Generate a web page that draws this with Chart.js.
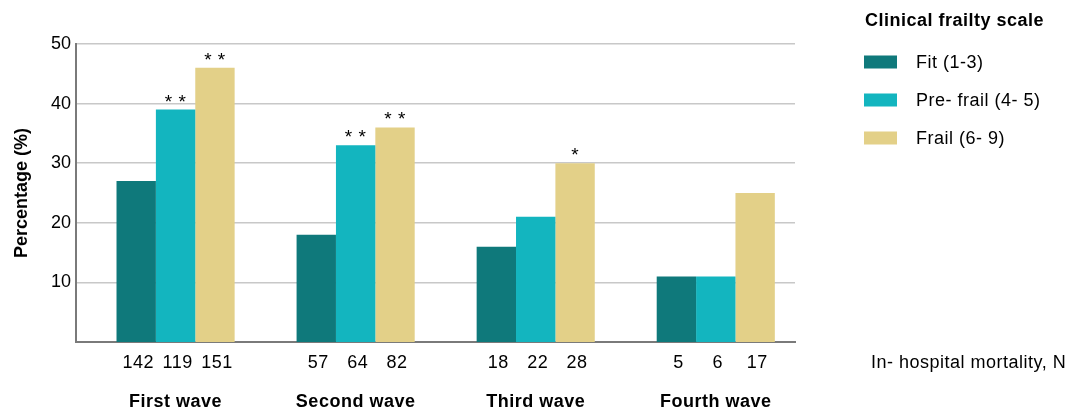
<!DOCTYPE html>
<html>
<head>
<meta charset="utf-8">
<script src="https://cdn.jsdelivr.net/npm/chart.js@4"></script>
<style>
  body { margin: 0; background: #fff; }
  #wrap { width: 1077px; height: 413px; position: relative; }
</style>
</head>
<body>
<div id="wrap"><canvas id="chart"></canvas></div>
<script>
// data
const waves = ["First wave", "Second wave", "Third wave", "Fourth wave"];
const groups = ["Fit (1-3)", "Pre- frail (4- 5)", "Frail (6- 9)"];
const fitPct = [27, 18, 16, 11];
const preFrailPct = [39, 33, 21, 11];
const frailPct = [46, 36, 30, 25];
const fitN = [142, 57, 18, 5];
const preFrailN = [119, 64, 22, 6];
const frailN = [151, 82, 28, 17];
const fitSig = ["", "", "", ""];
const preFrailSig = ["* *", "* *", "", ""];
const frailSig = ["* *", "* *", "*", ""];
const yTicks = [10, 20, 30, 40, 50];

const colors = ["#0f797b", "#13b5bf", "#e3d088"];
const counts = [fitN, preFrailN, frailN];
const sigs = [fitSig, preFrailSig, frailSig];
const FONT = '"Liberation Sans", Arial, sans-serif';

// text under the axis, asterisks and the legend
const extras = {
  id: "extras",
  afterDraw(chart) {
    const ctx = chart.ctx;
    const area = chart.chartArea;
    ctx.save();
    ctx.fillStyle = "#000";
    ctx.letterSpacing = "0.5px";

    chart.data.datasets.forEach((ds, di) => {
      const meta = chart.getDatasetMeta(di);
      meta.data.forEach((bar, i) => {
        // counts row
        ctx.font = "18px " + FONT;
        ctx.textAlign = "center";
        ctx.textBaseline = "middle";
        ctx.fillText(String(counts[di][i]), bar.x + 2, area.bottom + 21);
        // significance stars
        if (sigs[di][i]) {
          ctx.font = "19px " + FONT;
          ctx.textBaseline = "alphabetic";
          ctx.fillText(sigs[di][i], bar.x, bar.y - 2);
        }
      });
    });

    // wave names
    const xs = chart.scales.x;
    ctx.font = "bold 18px " + FONT;
    ctx.textAlign = "center";
    ctx.textBaseline = "middle";
    waves.forEach((w, i) => {
      ctx.fillText(w, xs.getPixelForValue(i), area.bottom + 60);
    });

    ctx.font = "18px " + FONT;
    ctx.textAlign = "left";
    ctx.fillText("In- hospital mortality, N", 871, area.bottom + 21);

    // legend
    ctx.font = "bold 18px " + FONT;
    ctx.fillText("Clinical frailty scale", 865, 21);
    ctx.font = "18px " + FONT;
    groups.forEach((g, i) => {
      const cy = 62 + i * 38;
      ctx.fillStyle = colors[i];
      ctx.fillRect(864, cy - 6.5, 33, 13);
      ctx.fillStyle = "#000";
      ctx.fillText(g, 916, cy + 1);
    });
    ctx.restore();
  }
};

new Chart(document.getElementById("chart"), {
  type: "bar",
  data: {
    labels: waves.map((_, i) => i),
    datasets: [
      { label: groups[0], data: fitPct, backgroundColor: colors[0] },
      { label: groups[1], data: preFrailPct, backgroundColor: colors[1] },
      { label: groups[2], data: frailPct, backgroundColor: colors[2] }
    ]
  },
  options: {
    responsive: true,
    maintainAspectRatio: false,
    animation: false,
    categoryPercentage: 0.656,
    barPercentage: 1,
    layout: { padding: { top: 44, right: 282, bottom: 0, left: 11 } },
    plugins: { legend: { display: false }, tooltip: { enabled: false } },
    scales: {
      x: {
        type: "linear",
        min: -0.553,
        max: 3.44,
        offset: false,
        afterBuildTicks: s => { s.ticks = waves.map((_, i) => ({ value: i })); },
        grid: { display: false },
        ticks: { display: false },
        border: { color: "#7a7a7a", width: 2 },
        afterFit: s => { s.height = 71; }
      },
      y: {
        min: 0,
        max: 50,
        afterBuildTicks: s => { s.ticks = yTicks.map(v => ({ value: v })); },
        ticks: { color: "#000", padding: 5, font: { family: FONT, size: 18 } },
        grid: { color: "#c8c8c8", lineWidth: 1.5, drawTicks: false },
        border: { color: "#7a7a7a", width: 2 },
        title: {
          display: true,
          text: "Percentage (%)",
          color: "#000",
          padding: 0,
          font: { family: FONT, size: 18, weight: "bold" }
        },
        afterFit: s => { s.width = 65; }
      }
    }
  },
  plugins: [extras]
});
</script>
</body>
</html>
